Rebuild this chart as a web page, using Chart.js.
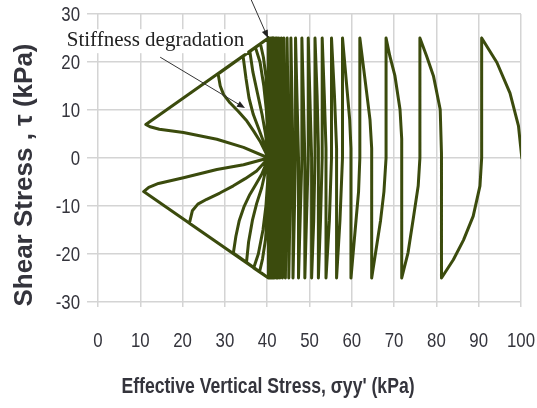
<!DOCTYPE html>
<html>
<head>
<meta charset="utf-8">
<script src="https://cdn.jsdelivr.net/npm/chart.js@4.4.1/dist/chart.umd.min.js"></script>
<style>
  html, body { margin: 0; padding: 0; background: #ffffff; }
  canvas { display: block; }
</style>
</head>
<body>
<canvas id="chart" width="537" height="408"></canvas>
<script>
// Axis ticks
const xTicks = [0, 10, 20, 30, 40, 50, 60, 70, 80, 90, 100];
const yTicks = [-30, -20, -10, 0, 10, 20, 30];

// Cyclic shear amplitude and the effective stress where the path stabilises
const tauAmp = 25;
const apexSigma = 40.3;

// First quarter cycle: loading from the initial state [σyy', τ]
const firstLoading = [[100.2, 0], [99.4, 6.7], [97.4, 13.5], [94.3, 19.9], [90.7, 25]];

// Early cycles with large pore-pressure build-up per half cycle
const earlyCycles = [
  [90.7, 0], [90.3, -5.8], [88.7, -12.1], [86.4, -17.1], [84.0, -21.2], [81.2, -25],
  [81.2, 1], [80.9, 10.1], [79.3, 17.1], [77.7, 21.2], [76.1, 25],
  [76.1, 0], [75.7, -5.8], [74.5, -12.8], [73.3, -19.7], [71.8, -25],
  [71.8, 4], [71.4, 10.1], [70.2, 17.1], [69.0, 21.2], [68.1, 25],
  [68.1, 0], [67.6, -7], [66.8, -13], [64.7, -25],
  [64.7, 2], [64.3, 8], [63.6, 13], [61.9, 25],
  [61.9, 0], [61.6, -7], [61.0, -13], [59.8, -25],
  [59.8, 2], [59.5, 8], [59.0, 13], [57.8, 25],
  [57.8, 0], [57.2, -13], [56.4, -25],
  [56.4, 2], [55.9, 13], [55.2, 25],
  [55.2, 0], [54.7, -13], [53.9, -25],
  [53.9, 2], [53.5, 13], [53.0, 25],
  [53.0, 0], [52.6, -13], [52.1, -25],
  [52.1, 2], [51.8, 13], [51.3, 25],
  [51.3, 0], [51.0, -13], [50.5, -25]
];

// σyy' at each later stress reversal (alternating +τ / -τ, starting at +τ)
const reversalSigma = [
  49.7, 48.9, 48.2, 47.4, 46.7, 46.1, 45.6, 45.1, 44.7, 44.3,
  43.9, 43.6, 43.3, 43.0, 42.7, 42.5, 42.3, 42.1, 41.9, 41.7,
  41.5, 41.4, 41.3, 41.2, 41.1, 41.0, 40.9, 40.8, 40.7, 40.6,
  40.5, 40.4, 40.3, 40.3
];

// Cyclic mobility: each branch leaves (σ', 0) and meets the failure line
const mobilityBranches = [
  [[40.2, 6], [40.0, 12], [39.7, 17], [39.1, 21], [38.4, 23.8]],
  [[40.2, -6], [40.0, -12], [39.6, -17], [38.9, -21], [38.2, -23.7]],
  [[40.1, 5], [39.8, 10], [39.2, 15], [38.3, 20], [37.2, 23.1]],
  [[40.1, -5], [39.7, -10], [39.0, -15], [37.9, -20], [36.8, -22.9]],
  [[39.6, 5], [38.8, 9], [37.7, 13.5], [36.6, 18], [35.9, 22.2]],
  [[38.7, -6.2], [37.5, -9.5], [36.5, -13], [35.6, -17.5], [35.1, -21.8]],
  [[39.1, 3.5], [37.9, 6.3], [36.7, 9.1], [35.7, 12.5], [35.0, 16.5], [34.3, 21.2]],
  [[38.7, -3.4], [37.3, -5.5], [35.9, -7.6], [34.5, -10.2], [33.4, -13], [32.6, -16.3], [32.0, -19.8]],
  [[38.3, 3.5], [36.8, 5.6], [35.2, 7.7], [33.2, 9.7], [31.2, 11.5], [29.7, 13.2], [28.9, 15], [28.4, 17.5]],
  [[37.5, -2.7], [34.8, -4.3], [32.0, -5.8], [28.8, -7.3], [25.7, -8.6], [23.6, -9.6], [22.3, -11.0], [21.6, -13.6]],
  [[34.4, 2.2], [28.1, 3.9], [20.2, 5.3], [14.5, 6.0], [12.3, 6.5], [11.3, 7.0]],
  [[34.4, -1.4], [28.1, -2.4], [20.2, -4.1], [14.3, -5.3], [12.0, -6.1], [10.8, -7.0]]
];

// Stress path assembled in loading order
const path = [];
const add = (s, t) => path.push({ x: s, y: t });
firstLoading.forEach(p => add(p[0], p[1]));
earlyCycles.forEach(p => add(p[0], p[1]));
let prev = earlyCycles[earlyCycles.length - 1][0];
reversalSigma.forEach((s, i) => {
  const sign = i % 2 === 0 ? 1 : -1;
  add(prev, 0);
  add(s, sign * tauAmp);
  prev = s;
});
mobilityBranches.forEach(branch => {
  const sign = branch[branch.length - 1][1] > 0 ? 1 : -1;
  add(apexSigma, 0);
  branch.forEach(p => add(p[0], p[1]));
  add(apexSigma, sign * tauAmp);
});

const LINE = '#3b4b0d';
const GRID = '#d4d4d4';
const TEXT = '#34343c';
const SANS = "'Liberation Sans', Arial, sans-serif";
const NARROW_SCALE = 0.8;   // horizontal squeeze that gives a narrow face

// Callout drawn in data coordinates
const callout = {
  text: 'Stiffness degradation',
  at: [-7.4, 23.3],
  arrows: [
    [[14.7, 21.0], [34.75, 10.4]],
    [[35.9, 33.6], [40.2, 25.0]]
  ]
};

function narrowText(ctx, str, x, y, align) {
  ctx.save();
  ctx.translate(x, y);
  ctx.scale(NARROW_SCALE, 1);
  ctx.textAlign = align;
  ctx.fillText(str, 0, 0);
  ctx.restore();
}

function arrow(ctx, x1, y1, x2, y2) {
  const a = Math.atan2(y2 - y1, x2 - x1);
  const len = 8, w = 3.2;
  ctx.beginPath();
  ctx.moveTo(x1, y1);
  ctx.lineTo(x2 - Math.cos(a) * len * 0.8, y2 - Math.sin(a) * len * 0.8);
  ctx.stroke();
  ctx.beginPath();
  ctx.moveTo(x2, y2);
  ctx.lineTo(x2 - Math.cos(a) * len + Math.sin(a) * w, y2 - Math.sin(a) * len - Math.cos(a) * w);
  ctx.lineTo(x2 - Math.cos(a) * len - Math.sin(a) * w, y2 - Math.sin(a) * len + Math.cos(a) * w);
  ctx.closePath();
  ctx.fill();
}

const overlay = {
  id: 'overlay',
  afterDraw(chart) {
    const { ctx } = chart;
    const sx = chart.scales.x, sy = chart.scales.y;
    ctx.save();
    ctx.fillStyle = TEXT;

    // tick labels in a narrow face
    ctx.font = '21px ' + SANS;
    ctx.textBaseline = 'middle';
    sx.ticks.forEach(t => narrowText(ctx, String(t.value), sx.getPixelForValue(t.value), 341, 'center'));
    sy.ticks.forEach(t => narrowText(ctx, String(t.value), 80, sy.getPixelForValue(t.value) + 1, 'right'));

    // axis titles
    ctx.textBaseline = 'alphabetic';
    ctx.font = 'bold 22px ' + SANS;
    narrowText(ctx, "Effective Vertical Stress, σyy' (kPa)", 268, 393, 'center');
    ctx.save();
    ctx.translate(32, 175);
    ctx.rotate(-Math.PI / 2);
    ctx.font = 'bold 26px ' + SANS;
    ctx.textAlign = 'center';
    ctx.fillText('Shear Stress , τ (kPa)', 0, 0);
    ctx.restore();

    // callout text on a white box
    ctx.font = "21px 'Liberation Serif', 'Times New Roman', serif";
    const tx = sx.getPixelForValue(callout.at[0]);
    const ty = sy.getPixelForValue(callout.at[1]);
    const tw = ctx.measureText(callout.text).width;
    ctx.fillStyle = '#ffffff';
    ctx.fillRect(tx - 3, ty - 17, tw + 6, 24);
    ctx.fillStyle = '#222222';
    ctx.textAlign = 'left';
    ctx.fillText(callout.text, tx, ty);

    ctx.strokeStyle = '#333333';
    ctx.fillStyle = '#222222';
    ctx.lineWidth = 1;
    callout.arrows.forEach(([p, q]) => {
      arrow(ctx, sx.getPixelForValue(p[0]), sy.getPixelForValue(p[1]),
                 sx.getPixelForValue(q[0]), sy.getPixelForValue(q[1]));
    });
    ctx.restore();
  }
};

new Chart(document.getElementById('chart'), {
  type: 'scatter',
  data: {
    datasets: [{
      data: path,
      showLine: true,
      borderColor: LINE,
      backgroundColor: LINE,
      borderWidth: 3,
      pointRadius: 0,
      borderJoinStyle: 'round',
      borderCapStyle: 'round',
      tension: 0
    }]
  },
  options: {
    responsive: false,
    devicePixelRatio: 1,
    animation: false,
    layout: { padding: { left: 0, top: 14, right: 16, bottom: 0 } },
    plugins: { legend: { display: false }, tooltip: { enabled: false } },
    scales: {
      x: {
        type: 'linear', min: 0, max: 100,
        afterBuildTicks: s => { s.ticks = xTicks.map(v => ({ value: v })); },
        afterFit: s => { s.height = 106; },
        grid: { color: GRID, lineWidth: 1.5, tickLength: 5, tickColor: GRID },
        border: { display: false },
        ticks: { display: false }
      },
      y: {
        type: 'linear', min: -30, max: 30,
        afterBuildTicks: s => { s.ticks = yTicks.map(v => ({ value: v })); },
        afterFit: s => { s.width = 98; },
        grid: { color: GRID, lineWidth: 1.5, tickLength: 11, tickColor: GRID },
        border: { display: false },
        ticks: { display: false }
      }
    }
  },
  plugins: [overlay]
});
</script>
</body>
</html>
